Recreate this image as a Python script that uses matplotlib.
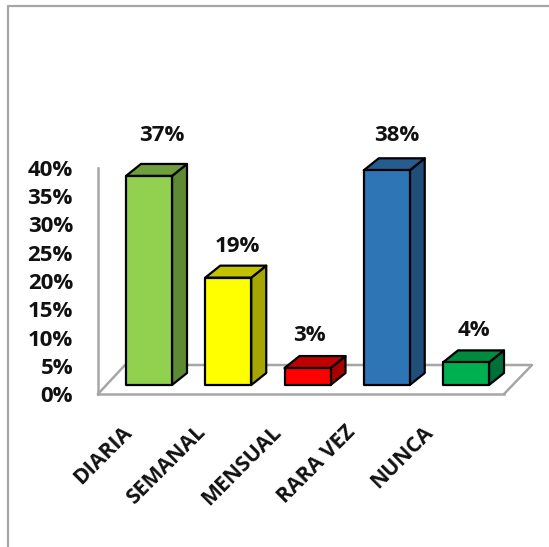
import matplotlib
matplotlib.use("Agg")
import matplotlib.pyplot as plt
from matplotlib.patches import Polygon
from matplotlib.lines import Line2D
from matplotlib.transforms import ScaledTranslation

categorias = ["DIARIA", "SEMANAL", "MENSUAL", "RARA VEZ", "NUNCA"]
valores = [37, 19, 3, 38, 4]
marcas_y = [0, 5, 10, 15, 20, 25, 30, 35, 40]

col_frente = ["#92d050", "#ffff00", "#ff0000", "#2e75b6", "#00b050"]
col_arriba = ["#6f9e3c", "#c2c200", "#c00000", "#255d91", "#008a3e"]
col_lado = ["#5e8a34", "#a6a600", "#a60000", "#1f4e79", "#00703a"]

# ajuste manual de etiquetas, en pixeles
sep_etiqueta = [40, 31, 33, 35, 32]
dx_etiqueta = [12.5, 9, 2, 10, 7.5]
dx_categoria = [-28, -33, -37, -42, -44]

GRIS = "#a6a6a6"
W, H = 549, 547

plt.rcParams["font.family"] = ["Open Sans", "DejaVu Sans"]
plt.rcParams["font.weight"] = "bold"

fig = plt.figure(figsize=(W / 100, H / 100), dpi=100, facecolor="white")

# marco exterior del grafico
fig.add_artist(Line2D([8 / W, 8 / W, 1], [0, 1 - 6 / H, 1 - 6 / H], color=GRIS, lw=1.6))

# ejes: x de 98 a 504 px, y de 394 a 168 px
ax = fig.add_axes([98 / W, 1 - 394 / H, 406 / W, 226 / H])
paso = 79.25
ax.set_xlim(-51 / paso, 4 + 38 / paso)
ax.set_ylim(0, 40)
ax.patch.set_alpha(0)

px_x = 1 / paso
px_y = 40 / 226

# piso en perspectiva
x0, x1 = ax.get_xlim()
ax.plot([x0, x0 + 27 * px_x, x1 + 28 * px_x, x1],
        [0, 29 * px_y, 29 * px_y, 0],
        color=GRIS, lw=1.8, clip_on=False, zorder=1)

# barras 3D: frente, tapa y lateral
ancho = 46 * px_x
fx = 15 * px_x
fy = 12 * px_y
base = 9 * px_y
for i, v in enumerate(valores):
    izq = i - ancho / 2
    der = i + ancho / 2
    arriba = base + v
    frente = [(izq, base), (der, base), (der, arriba), (izq, arriba)]
    tapa = [(izq, arriba), (der, arriba), (der + fx, arriba + fy), (izq + fx, arriba + fy)]
    lado = [(der, base), (der + fx, base + fy), (der + fx, arriba + fy), (der, arriba)]
    for pts, c in [(lado, col_lado[i]), (tapa, col_arriba[i]), (frente, col_frente[i])]:
        ax.add_patch(Polygon(pts, closed=True, facecolor=c, edgecolor="black",
                             lw=1.6, joinstyle="round", clip_on=False, zorder=3))
    ax.text(i + dx_etiqueta[i] * px_x, arriba + sep_etiqueta[i] * px_y, "%d%%" % v,
            ha="center", va="center", fontsize=16, color="#111111", zorder=4)

for s in ["top", "right"]:
    ax.spines[s].set_visible(False)
for s in ["left", "bottom"]:
    ax.spines[s].set_color(GRIS)
    ax.spines[s].set_linewidth(1.8)

ax.set_yticks(marcas_y)
ax.set_yticklabels(["%d%%" % m for m in marcas_y], fontsize=16, color="#111111")
ax.tick_params(axis="y", length=0, pad=18)

ax.set_xticks(range(len(categorias)))
ax.set_xticklabels(categorias, rotation=45, ha="right", rotation_mode="anchor",
                   fontsize=15.3, color="#111111")
ax.tick_params(axis="x", length=0, pad=20)
for etiqueta, dx in zip(ax.get_xticklabels(), dx_categoria):
    etiqueta.set_transform(etiqueta.get_transform() + ScaledTranslation(dx / 100, 0, fig.dpi_scale_trans))

fig.savefig("out.png", dpi=100)
